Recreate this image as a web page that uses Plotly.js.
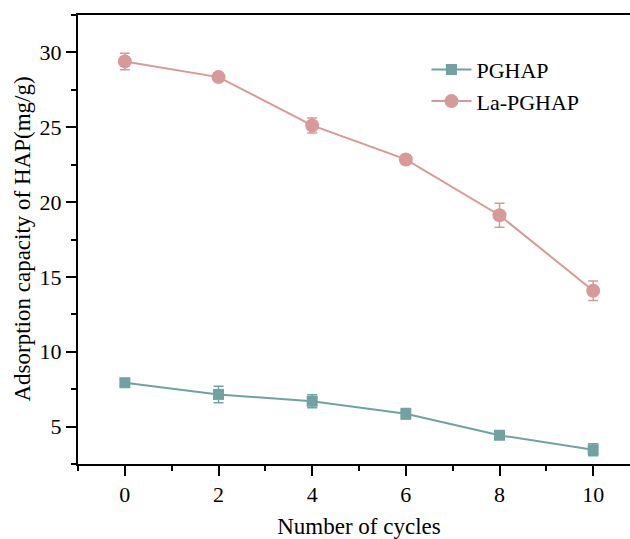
<!DOCTYPE html>
<html>
<head>
<meta charset="utf-8">
<script src="https://cdn.plot.ly/plotly-3.0.1.min.js"></script>
<style>
html,body{margin:0;padding:0;overflow:hidden;background:#fff;}
#chart{width:645px;height:539px;}
</style>
</head>
<body>
<div id="chart"></div>
<script>
const cycles = [0, 2, 4, 6, 8, 10];
const pghap = [7.93, 7.15, 6.69, 5.85, 4.42, 3.45];
const pghapErr = [0.2, 0.55, 0.43, 0.35, 0.15, 0.4];
const laPghap = [29.4, 28.35, 25.12, 22.85, 19.12, 14.08];
const laPghapErr = [0.55, 0.2, 0.5, 0.3, 0.8, 0.65];
const seriesNames = ["PGHAP", "La-PGHAP"];
const yTitle = "Adsorption capacity of HAP(mg/g)";

const tealC = "#72a1a2";
const pinkC = "#d69a98";
const font = "Liberation Serif, Times New Roman, serif";

const traces = [
  {
    x: cycles, y: pghap, name: seriesNames[0], type: "scatter", mode: "lines+markers",
    line: {color: tealC, width: 2},
    marker: {symbol: "square", size: 11, color: tealC},
    error_y: {type: "data", array: pghapErr, visible: true, color: tealC, thickness: 1.5, width: 5}
  },
  {
    x: cycles, y: laPghap, name: seriesNames[1], type: "scatter", mode: "lines+markers",
    line: {color: pinkC, width: 2},
    marker: {symbol: "circle", size: 14, color: pinkC},
    error_y: {type: "data", array: laPghapErr, visible: true, color: pinkC, thickness: 1.5, width: 5}
  }
];

const layout = {
  width: 645, height: 539,
  margin: {l: 78, r: 5, t: 15, b: 75},
  paper_bgcolor: "#fff", plot_bgcolor: "#fff",
  font: {family: font, color: "#000", size: 22},
  showlegend: true,
  legend: {x: 0.62, y: 0.925, xanchor: "left", yanchor: "top", bgcolor: "rgba(0,0,0,0)",
           font: {family: font, size: 22}, itemwidth: 40},
  annotations: [{
    text: yTitle, xref: "paper", yref: "paper", x: -0.0996, y: 0.50,
    xanchor: "center", yanchor: "middle", textangle: -90, showarrow: false,
    font: {family: font, size: 23, color: "#000"}
  }],
  xaxis: {
    range: [-1, 11], tickmode: "linear", tick0: 0, dtick: 2,
    showline: true, linecolor: "#000", linewidth: 2, mirror: true,
    ticks: "outside", ticklen: 10, tickwidth: 2, tickcolor: "#000",
    minor: {dtick: 1, tick0: 0, ticks: "outside", ticklen: 5, tickwidth: 2, tickcolor: "#000"},
    showgrid: false, zeroline: false,
    tickfont: {family: font, size: 22},
    title: {text: "Number of cycles", font: {family: font, size: 23}, standoff: 18}
  },
  yaxis: {
    range: [2.5, 32.5], tickmode: "linear", tick0: 0, dtick: 5,
    showline: true, linecolor: "#000", linewidth: 2, mirror: true,
    ticks: "outside", ticklen: 10, tickwidth: 2, tickcolor: "#000",
    minor: {dtick: 2.5, tick0: 0, ticks: "outside", ticklen: 5, tickwidth: 2, tickcolor: "#000"},
    showgrid: false, zeroline: false,
    tickfont: {family: font, size: 22}
  }
};

Plotly.newPlot("chart", traces, layout, {displayModeBar: false, staticPlot: true});
</script>
</body>
</html>
